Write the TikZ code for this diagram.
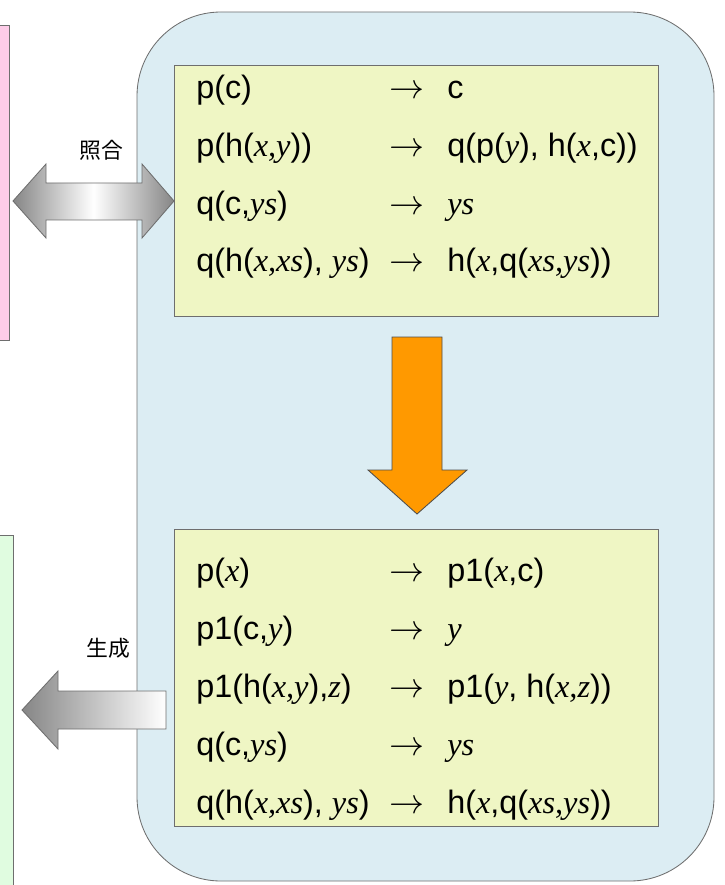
\documentclass[tikz,border=0pt]{standalone}
\usepackage{fontspec}
\setmainfont{Liberation Sans}
\newfontfamily\cjkfont{Noto Sans CJK JP}
\newfontfamily\varfont{Liberation Serif}
\newcommand{\iv}[1]{{\varfont\itshape #1}}
\definecolor{roundblue}{RGB}{220,237,243}
\definecolor{ruleyellow}{RGB}{239,246,196}
\definecolor{leftpink}{RGB}{253,204,232}
\definecolor{leftgreen}{RGB}{224,252,224}
\definecolor{edgegray}{RGB}{110,110,110}
\definecolor{downorange}{RGB}{255,153,0}
\begin{document}
\begin{tikzpicture}[x=0.025cm, y=-0.025cm,
  edge/.style={draw=edgegray, line width=0.6pt},
  lhs/.style={anchor=base west, inner sep=0, font=\fontsize{23}{27}\selectfont},
  rarr/.style={anchor=base west, inner sep=0, font=\fontsize{23}{27}\selectfont},
  rhs/.style={anchor=base west, inner sep=0, font=\fontsize{23}{27}\selectfont},
  cjklabel/.style={inner sep=0, font=\cjkfont\fontsize{15.5}{18}\selectfont}]
\useasboundingbox (0,0) rectangle (724,885);

% Boxes at the left edge
\draw[edge, fill=leftpink] (-10,25) rectangle (9,340);
\draw[edge, fill=leftgreen] (-10,535) rectangle (13,900);

% The rounded panel and its two rule boxes
\draw[edge, fill=roundblue, rounded corners=2.1cm] (137,12) rectangle (714,881);
\draw[edge, fill=ruleyellow] (174,65) rectangle (658,316);
\draw[edge, fill=ruleyellow] (174,529) rectangle (658,826);

% Rules of the upper box
\node[lhs] (old1) at (196,99) {p(c)};
\node[rarr] (oldto1) at (389,99) {$\rightarrow$};
\node[rhs] (oldres1) at (447,99) {c};
\node[lhs] (old2) at (196,157) {p(h(\iv{x,y}))};
\node[rarr] (oldto2) at (389,157) {$\rightarrow$};
\node[rhs] (oldres2) at (447,157) {q(p(\iv{y}), h(\iv{x},c))};
\node[lhs] (old3) at (196,215) {q(c,\iv{ys})};
\node[rarr] (oldto3) at (389,215) {$\rightarrow$};
\node[rhs] (oldres3) at (447,215) {\iv{ys}};
\node[lhs] (old4) at (196,272) {q(h(\iv{x,xs}), \iv{ys})};
\node[rarr] (oldto4) at (389,272) {$\rightarrow$};
\node[rhs] (oldres4) at (447,272) {h(\iv{x},q(\iv{xs,ys}))};

% Rules of the lower box
\node[lhs] (new1) at (196,581) {p(\iv{x})};
\node[rarr] (newto1) at (389,581) {$\rightarrow$};
\node[rhs] (newres1) at (447,581) {p1(\iv{x},c)};
\node[lhs] (new2) at (196,639) {p1(c,\iv{y})};
\node[rarr] (newto2) at (389,639) {$\rightarrow$};
\node[rhs] (newres2) at (447,639) {\iv{y}};
\node[lhs] (new3) at (196,697) {p1(h(\iv{x,y}),\iv{z})};
\node[rarr] (newto3) at (389,697) {$\rightarrow$};
\node[rhs] (newres3) at (447,697) {p1(\iv{y}, h(\iv{x,z}))};
\node[lhs] (new4) at (196,755) {q(c,\iv{ys})};
\node[rarr] (newto4) at (389,755) {$\rightarrow$};
\node[rhs] (newres4) at (447,755) {\iv{ys}};
\node[lhs] (new5) at (196,813) {q(h(\iv{x,xs}), \iv{ys})};
\node[rarr] (newto5) at (389,813) {$\rightarrow$};
\node[rhs] (newres5) at (447,813) {h(\iv{x},q(\iv{xs,ys}))};

% Orange arrow between the boxes
\draw[draw=edgegray!70!black, line width=0.6pt, fill=downorange]
  (392,337) -- (442,337) -- (442,470) -- (467,470) -- (417,514)
  -- (368,470) -- (392,470) -- cycle;

% Double arrow (match)
\draw[edge, left color=gray!95, right color=gray!95, middle color=white]
  (13,201) -- (46,164) -- (46,183) -- (142,183) -- (142,164) -- (174,201)
  -- (142,238) -- (142,220) -- (46,220) -- (46,238) -- cycle;
\node[cjklabel] (matchlbl) at (101,150) {照合};

% Single arrow (generate)
\draw[edge, left color=gray!95, right color=white]
  (22,710) -- (58,671) -- (58,691) -- (166,691) -- (166,729)
  -- (58,729) -- (58,749) -- cycle;
\node[cjklabel] (genlbl) at (108,648) {生成};
\end{tikzpicture}
\end{document}
